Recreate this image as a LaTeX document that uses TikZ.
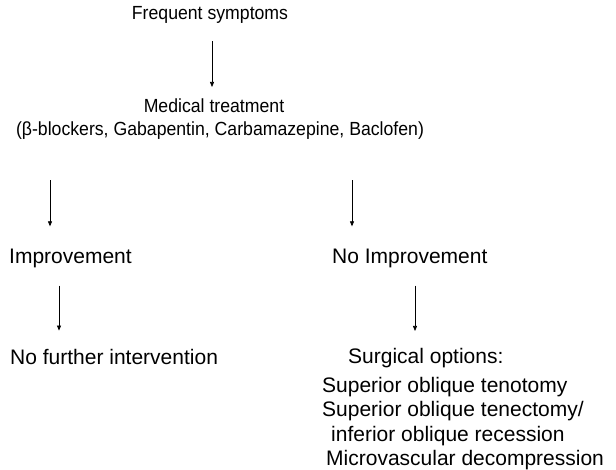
\documentclass[tikz,border=0pt]{standalone}
\usepackage{fontspec}
\setmainfont{Liberation Sans}
\newfontfamily\narrowfont[FakeStretch=0.93]{Liberation Sans}
\usetikzlibrary{arrows.meta}
\tikzset{
  label-text/.style={inner sep=0pt, font=\fontsize{21}{24.5}\selectfont},
  head-text/.style={inner sep=0pt, font=\narrowfont\fontsize{19}{23}\selectfont},
  flow/.style={-{Triangle[length=5pt, width=4pt]}, line width=0.7pt, draw=black}
}
\begin{document}
\begin{tikzpicture}[x=1pt, y=-1pt]

\useasboundingbox (0,0) rectangle (616,470);

\node[head-text, anchor=base] (symptoms) at (210,20) {Frequent symptoms};
\node[head-text, anchor=north, align=center] (medical) at (220,99) {Medical treatment\hspace*{12pt}\\(β-blockers, Gabapentin, Carbamazepine, Baclofen)};

\node[label-text, anchor=base west] (improve) at (9,264) {Improvement};
\node[label-text, anchor=base west] (noimprove) at (332,264) {No Improvement};

\node[label-text, anchor=base west] (nofurther) at (10,364) {No further intervention};
\node[label-text, anchor=north west, align=left] (surgery) at (322,348) {\hspace*{26pt}Surgical options:\\[4.5pt]
Superior oblique tenotomy\\
Superior oblique tenectomy/\\
\hspace*{9pt}inferior oblique recession\\
\hspace*{4pt}Microvascular decompression};

\draw[flow, shorten <=17pt, shorten >=12pt] ([xshift=2pt]symptoms.south) -- ([xshift=2pt]symptoms.south |- medical.north);
\draw[flow, shorten <=40pt, shorten >=23pt] ([xshift=41pt]improve.north west |- medical.south) -- ([xshift=41pt]improve.north west);
\draw[flow, shorten <=40pt, shorten >=23pt] ([xshift=20pt]noimprove.north west |- medical.south) -- ([xshift=20pt]noimprove.north west);
\draw[flow, shorten <=17pt, shorten >=18pt] ([xshift=50pt]improve.south west) -- ([xshift=50pt]improve.south west |- nofurther.north);
\draw[flow, shorten <=17pt, shorten >=17pt] ([xshift=83pt]noimprove.south west) -- ([xshift=83pt]noimprove.south west |- surgery.north);

\end{tikzpicture}
\end{document}
